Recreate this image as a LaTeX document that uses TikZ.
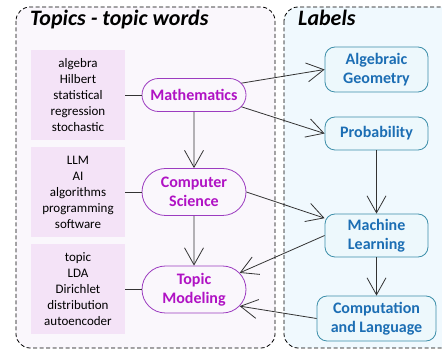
\documentclass[tikz,border=0pt]{standalone}
\usepackage{fontspec}
\setmainfont{Carlito}
\usetikzlibrary{arrows.meta,shapes.misc}
\definecolor{panelL}{HTML}{FAF7FC}
\definecolor{panelR}{HTML}{F0F9FE}
\definecolor{wordfill}{HTML}{F4E3F7}
\definecolor{topictext}{HTML}{B012C4}
\definecolor{topicdraw}{HTML}{9C3CC0}
\definecolor{labeltext}{HTML}{1C6EB4}
\definecolor{labeldraw}{HTML}{3D8FAA}
\definecolor{labelfill}{HTML}{EDF8FC}
\definecolor{edgecol}{HTML}{333333}
\begin{document}
\begin{tikzpicture}[
        x=1pt, y=-1pt,
        panel/.style={
            draw=black,
            dash pattern=on 4pt off 2.5pt,
            line width=0.8pt,
            rounded corners=14pt
        },
        paneltitle/.style={
            anchor=base west,
            inner sep=0pt,
            font=\fontsize{22}{25}\selectfont\bfseries\itshape
        },
        words/.style={
            fill=wordfill,
            minimum width=94pt,
            minimum height=90pt,
            inner sep=0pt,
            align=center,
            font=\fontsize{13}{16}\selectfont
        },
        topic/.style={
            rounded rectangle,
            draw=topicdraw,
            fill=panelL,
            line width=0.8pt,
            text=topictext,
            minimum width=104pt,
            inner sep=0pt,
            align=center,
            font=\fontsize{16}{19.5}\selectfont\bfseries
        },
        labelbox/.style={
            draw=labeldraw,
            fill=labelfill,
            line width=0.8pt,
            rounded corners=10pt,
            text=labeltext,
            minimum width=103pt,
            inner sep=0pt,
            align=center,
            font=\fontsize{16}{19.5}\selectfont\bfseries
        },
        edge/.style={
            draw=edgecol,
            line width=0.8pt,
            -{Straight Barb[length=17pt,width=19pt]}
        }
    ]
    \useasboundingbox (0,0) rectangle (442,352);

    % Paneles
    \draw[panel, fill=panelL] (16,7) rectangle (275,348);
    \draw[panel, fill=panelR] (284,7) rectangle (460,348);
    \node[paneltitle] (ttopics) at (30,26) {Topics - topic words};
    \node[paneltitle] (tlabels) at (298,26) {Labels};

    % Topic words
    \node[words] (w1) at (78,95)  {algebra\\Hilbert\\statistical\\regression\\stochastic};
    \node[words] (w2) at (78,192) {LLM\\AI\\algorithms\\programming\\software};
    \node[words] (w3) at (78,289.5) {topic\\LDA\\Dirichlet\\distribution\\autoencoder};

    % Topics
    \node[topic, minimum height=33pt] (math) at (194,95)  {Mathematics};
    \node[topic, minimum height=47pt] (cs)   at (194,192) {Computer\\Science};
    \node[topic, minimum height=47pt] (tm)   at (194,289.5) {Topic\\Modeling};

    % Labels
    \node[labelbox, minimum height=45pt] (ag)   at (376.5,69.5)  {Algebraic\\Geometry};
    \node[labelbox, minimum height=33pt] (prob) at (376.5,133.5) {Probability};
    \node[labelbox, minimum height=43pt] (ml)   at (376.5,235.5) {Machine\\Learning};
    \node[labelbox, minimum height=45pt, minimum width=119pt] (cl) at (376.5,318.5) {Computation\\and Language};

    % Aristas
    \draw[edgecol, line width=0.8pt] (w1) -- (math);
    \draw[edgecol, line width=0.8pt] (w2) -- (cs);
    \draw[edgecol, line width=0.8pt] (w3) -- (tm);

    \draw[edge] (math.14) -- (ag.west);
    \draw[edge] (math.-14) -- (prob.west);
    \draw[edge] (math) -- (cs);
    \draw[edge] (cs.east) -- (ml);
    \draw[edge] (cs) -- (tm);
    \draw[edge] (prob) -- (ml);
    \draw[edge] (ml) -- (cl);
    \draw[edge] (ml.west) -- (tm.20);
    \draw[edge] (cl.west) -- (tm.-20);

\end{tikzpicture}
\end{document}
